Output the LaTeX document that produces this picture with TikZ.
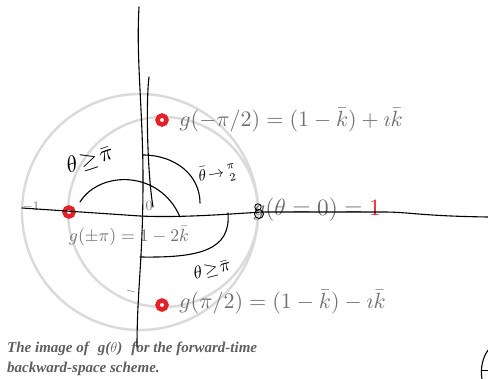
\documentclass[tikz,border=0pt]{standalone}
\usepackage{fontspec}
\newfontfamily\capfont{Liberation Serif}
\definecolor{circgray}{RGB}{218,218,218}
\definecolor{txtgray}{RGB}{112,112,112}
\definecolor{dotred}{RGB}{228,32,40}
\definecolor{capgray}{RGB}{95,95,95}
\tikzset{
  lab/.style={inner sep=0pt, text=txtgray, scale=2.2, transform shape},
  lab2/.style={inner sep=0pt, text=txtgray, scale=1.77, transform shape},
  dotring/.style={circle, draw=dotred, line width=4.5pt, fill=white, minimum size=9pt, inner sep=0pt},
  unitc/.style={draw=circgray, line width=2.4pt},
  ink/.style={draw=black, line width=1.1pt, line cap=round, line join=round},
  hand/.style={inner sep=0pt, text=black, transform shape},
  captext/.style={inner sep=0pt, anchor=west, text=capgray, font=\capfont\bfseries\itshape\fontsize{15}{17}\selectfont}
}
\begin{document}
\begin{tikzpicture}[x=1pt,y=-1pt]
\useasboundingbox[fill=white] (0,0) rectangle (488,379);
% gray circles
\coordinate (o1) at (140,212);
\coordinate (o2) at (163,212);
\draw[unitc] (o1) circle[radius=118];
\draw[unitc] (o2) circle[radius=95];
% printed labels
\node[lab, anchor=west] (ltop) at (179,120) {$g(-\pi/2) = (1-\bar{k}) + \imath\bar{k}$};
\node[lab, anchor=west] (lbot) at (179,302) {$g(\pi/2) = (1-\bar{k}) - \imath\bar{k}$};
\node[lab, anchor=west, scale=1.06] (lright) at (253,210) {$g(\theta=0) = {\color{dotred}1}$};
\node[lab2] (lleft) at (129,236) {$g(\pm\pi) = 1-2\bar{k}$};
\node[inner sep=0pt, text=txtgray, scale=1.3, transform shape] (lm1) at (31,207) {$-1$};
\node[inner sep=0pt, text=txtgray, scale=1.4, transform shape] (l0) at (149,206) {$0$};
% red dots
\node[dotring] (dtop) at (162,120) {};
\node[dotring] (dleft) at (69,212) {};
\node[dotring] (dbot) at (162,305) {};
% caption
\node[captext] (cap1) at (7,349) {The image of\hspace{9pt}g($\theta$)\hspace{9pt}for the forward-time};
\node[captext] (cap2) at (7,369) {backward-space scheme.};
% hand-drawn axes
\coordinate (va) at (139,7);
\coordinate (vb) at (137,347);
\draw[ink] (va) .. controls (136,60) and (143,110) .. (143,180) .. controls (143,260) and (137,290) .. (vb);
\coordinate (wa) at (149,77);
\coordinate (wb) at (153,207);
\draw[ink] (wa) .. controls (146,100) and (147,170) .. (wb);
\coordinate (ha) at (22,208);
\coordinate (hb) at (488,217);
\draw[ink] (ha) -- (140,216) .. controls (180,218) and (230,214) .. (262,212) -- (383,212) .. controls (410,212) and (420,216) .. (hb);
% hand-drawn arcs
\coordinate (a1) at (80,202);
\coordinate (a2) at (180,217);
\draw[ink] (a1) .. controls (100,170) and (160,170) .. (a2);
\coordinate (b1) at (143,155);
\coordinate (b2) at (200,203);
\draw[ink] (b1) .. controls (175,155) and (200,175) .. (b2);
\coordinate (c1) at (228,213);
\coordinate (c2) at (140,257);
\draw[ink] (c1) .. controls (231,250) and (200,258) .. (c2);
% hand-written notes
\node[hand, rotate=18, scale=2.3] (n1) at (90,160) {$\theta\!\geq\!\bar{\pi}$};
\node[hand, rotate=10, scale=1.6] (n2) at (218,174) {$\bar{\theta}\!\to\!{\pi\atop 2}$};
\node[hand, rotate=15, scale=1.8] (n3) at (212,270) {$\theta\!\geq\!\bar{\pi}$};
% scribble over g at theta=0
\draw[ink, line width=0.9pt] (258,207) circle[radius=3.2];
\draw[ink, line width=0.9pt] (259,214) circle[radius=4.5];
% small marks
\draw[draw=gray, line width=0.6pt] (127,290) -- (135,292);
\coordinate (e1) at (489,349);
\coordinate (e2) at (482,379);
\draw[ink] (e1) .. controls (483,356) and (480,368) .. (e2);
\draw[ink, line width=0.7pt] (482,370) -- (488,370);
\end{tikzpicture}
\end{document}
